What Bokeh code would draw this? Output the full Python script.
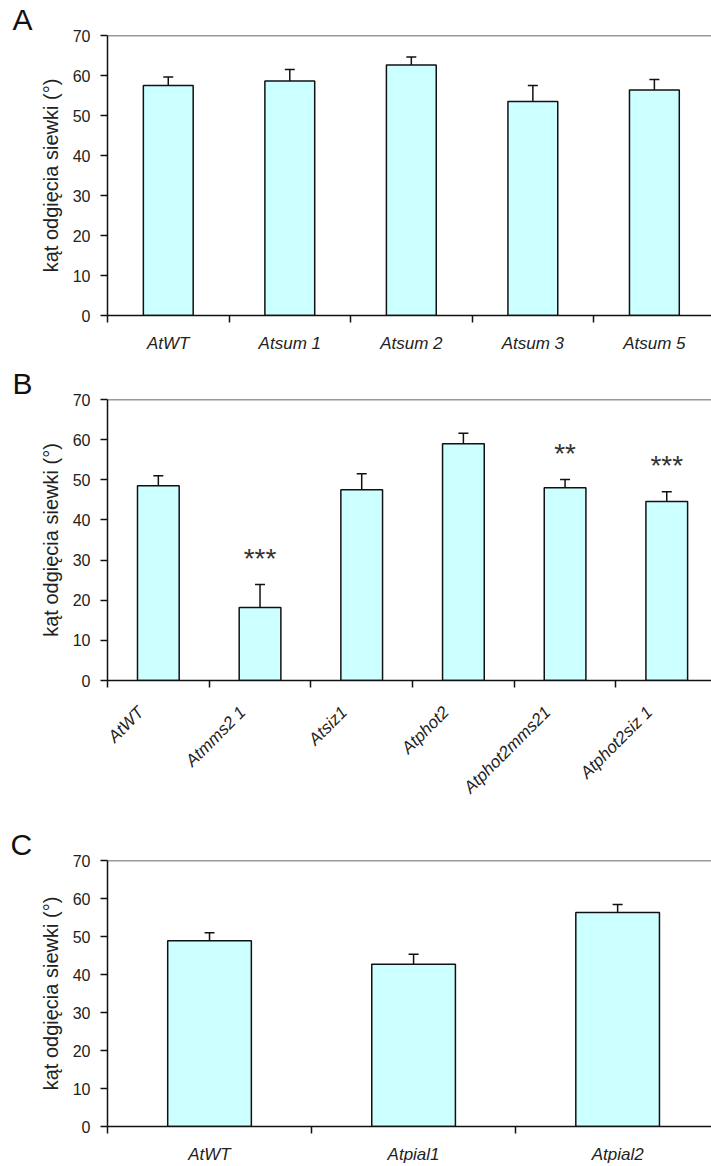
from bokeh.plotting import figure
from bokeh.layouts import column
from bokeh.models import (ColumnDataSource, FixedTicker, Whisker, TeeHead, Span,
                          Title, Range1d)
from bokeh.core.properties import value
from bokeh.embed import file_html
from bokeh.resources import INLINE
import math

# ---- data -------------------------------------------------------------
a_lines = ["AtWT", "Atsum 1", "Atsum 2", "Atsum 3", "Atsum 5"]
a_mean = [57.5, 58.6, 62.6, 53.5, 56.4]
a_sem = [2.1, 2.9, 2.0, 4.0, 2.6]
a_sig = ["", "", "", "", ""]

b_lines = ["AtWT", "Atmms2 1", "Atsiz1", "Atphot2", "Atphot2mms21", "Atphot2siz 1"]
b_mean = [48.5, 18.2, 47.5, 59.0, 48.0, 44.6]
b_sem = [2.5, 5.7, 4.0, 2.6, 2.1, 2.4]
b_sig = ["", "***", "", "", "**", "***"]

c_lines = ["AtWT", "Atpial1", "Atpial2"]
c_mean = [48.9, 42.7, 56.3]
c_sem = [2.1, 2.6, 2.1]
c_sig = ["", "", ""]

y_ticks = [0, 10, 20, 30, 40, 50, 60, 70]
y_title = "kąt odgięcia siewki (°)"

FONT = "Liberation Sans"
BAR_FILL = "#ccffff"
INK = "#111111"


def panel(letter, lines, mean, sem, sig, height, top, bottom, left, x_end_trim,
          rotate=False, label_shift=0.0):
    n = len(lines)
    centers = [i + 0.5 for i in range(n)]
    src = ColumnDataSource(dict(
        x=centers, mean=mean,
        upper=[m + s for m, s in zip(mean, sem)],
        sig=sig,
    ))

    p = figure(width=711, height=height, output_backend="svg",
               toolbar_location=None, tools="",
               x_range=Range1d(0, n - x_end_trim), y_range=Range1d(0, 70))
    p.min_border_left = left
    p.min_border_right = 0
    p.min_border_top = top
    p.min_border_bottom = bottom
    p.outline_line_color = None
    p.background_fill_color = "white"
    p.border_fill_color = "white"
    p.grid.visible = False

    # panel letter in the top margin, pulled left over the axis area
    p.add_layout(Title(text=letter, align="left", offset=-(left - 10),
                       standoff=0, text_font=FONT, text_font_size="30px",
                       text_font_style="normal", text_color="#111111"), "above")

    p.vbar(x="x", top="mean", bottom=0, width=0.41, source=src,
           fill_color=BAR_FILL, line_color=INK, line_width=1.5)

    err = Whisker(base="x", lower="mean", upper="upper", source=src,
                  line_color=INK, line_width=1.5, lower_head=None,
                  upper_head=TeeHead(size=10, line_color=INK, line_width=1.5),
                  level="overlay")
    p.add_layout(err)

    p.text(x="x", y="upper", text="sig", source=src,
           text_font=value(FONT), text_font_size="28px",
           text_align="center", text_baseline="alphabetic", y_offset=-26,
           text_color="#333333")

    # top frame edge
    p.add_layout(Span(location=70, dimension="width", line_color="#333333",
                      line_width=1.5))

    # y axis
    ya = p.yaxis[0]
    ya.ticker = FixedTicker(ticks=y_ticks, minor_ticks=[])
    ya.axis_line_color = INK
    ya.axis_line_width = 1.5
    ya.major_tick_out = 7
    ya.major_tick_in = 0
    ya.major_tick_line_width = 1.5
    ya.major_tick_line_color = INK
    ya.major_label_text_font = FONT
    ya.major_label_text_font_size = "16px"
    ya.major_label_text_color = "#222222"
    ya.major_label_standoff = 10
    ya.axis_label = y_title
    ya.axis_label_text_font = FONT
    ya.axis_label_text_font_size = "20px"
    ya.axis_label_text_font_style = "normal"
    ya.axis_label_text_color = "#222222"
    ya.axis_label_standoff = 8

    # x axis: group names at bar centres, tick marks at group boundaries
    xa = p.xaxis[0]
    label_pos = [c - label_shift for c in centers]
    xa.ticker = FixedTicker(ticks=label_pos, minor_ticks=list(range(n + 1)))
    xa.major_label_overrides = {pos: name for pos, name in zip(label_pos, lines)}
    xa.axis_line_color = INK
    xa.axis_line_width = 1.5
    xa.major_tick_out = 0
    xa.major_tick_in = 0
    xa.minor_tick_out = 7
    xa.minor_tick_in = 0
    xa.minor_tick_line_width = 1.5
    xa.minor_tick_line_color = INK
    xa.major_label_text_font = FONT
    xa.major_label_text_font_size = "17px"
    xa.major_label_text_font_style = "italic"
    xa.major_label_text_color = "#222222"
    if rotate:
        xa.major_label_orientation = math.pi / 4
        xa.major_label_standoff = 22
    else:
        xa.major_label_standoff = 11
    return p


pa = panel("A", a_lines, a_mean, a_sem, a_sig, height=360, top=35, bottom=45,
           left=105, x_end_trim=0.03)
pb = panel("B", b_lines, b_mean, b_sem, b_sig, height=452, top=39, bottom=132,
           left=105, x_end_trim=0.06, rotate=True, label_shift=0.17)
pc = panel("C", c_lines, c_mean, c_sem, c_sig, height=354, top=48, bottom=39,
           left=107, x_end_trim=0.04)

layout = column(pa, pb, pc, spacing=0)
open("out.html", "w").write(file_html(layout, INLINE))
